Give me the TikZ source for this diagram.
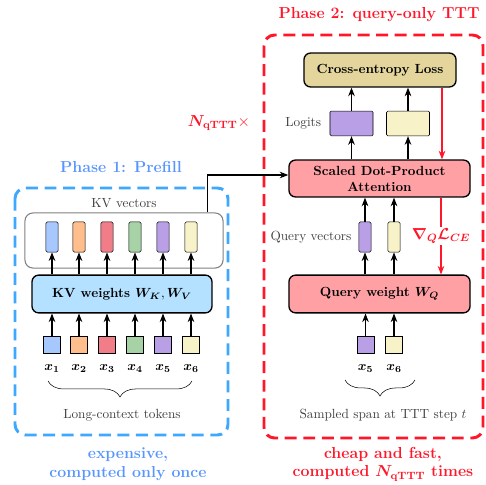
\documentclass[tikz,border=0pt]{standalone}
\usepackage{amsmath}
\usepackage{bm}
\usepackage{tikz}
\usetikzlibrary{arrows.meta,decorations.pathreplacing,calc}
\usepackage{color}

\definecolor{phaseblue}{RGB}{62,168,255}
\definecolor{phasebluetxt}{RGB}{88,150,255}
\definecolor{phasered}{RGB}{255,22,40}
\definecolor{tokblue}{RGB}{166,200,255}
\definecolor{tokorange}{RGB}{255,190,140}
\definecolor{tokred}{RGB}{240,125,135}
\definecolor{tokgreen}{RGB}{166,210,166}
\definecolor{tokpurple}{RGB}{185,160,230}
\definecolor{tokcream}{RGB}{247,242,200}
\definecolor{kvfill}{RGB}{180,225,255}
\definecolor{cefill}{RGB}{227,213,155}
\definecolor{attnfill}{RGB}{255,160,165}

\begin{document}
\begin{tikzpicture}
[x=0.0265cm,y=-0.0265cm,>={Stealth[length=6.5pt,width=5pt]},
 vec/.style={draw,rounded corners=1pt,minimum width=0.32cm,minimum height=0.8cm,inner sep=0pt},
 tok/.style={draw,minimum size=0.45cm,inner sep=0pt},
 logit/.style={draw,rounded corners=1pt,minimum width=1.14cm,minimum height=0.66cm,inner sep=0pt},
 block/.style={draw,line width=1pt,rounded corners=5pt,font=\bfseries,align=center,inner sep=0pt},
 note/.style={text=black!75},
 phase/.style={font=\large\bfseries,align=center},
 flow/.style={->,thick},
 grad/.style={->,thick,phasered},
 brc/.style={decorate,decoration={brace,mirror,amplitude=12pt}},
]
\useasboundingbox (0,0) rectangle (485,485);

%Phase frames
\draw[phaseblue,line width=2.2pt,dash pattern=on 9pt off 5pt,rounded corners=8pt] (15,188) rectangle (228,435);
\draw[phasered,line width=2.2pt,dash pattern=on 9pt off 5pt,rounded corners=8pt] (264,35) rectangle (483,438);
\node[phase,text=phasebluetxt] (title1) at (121,167) {Phase 1: Prefill};
\node[phase,text=phasered] (title2) at (379,15) {Phase 2: query-only TTT};

%Phase 1: prefill of the long context
\node[draw,black!50,thick,rounded corners=6pt,minimum width=5.25cm,minimum height=1.46cm] (kvbox) at (124,240.5) {};
\node[note,above] (kvlab) at (kvbox.north) {KV vectors};
\node[block,fill=kvfill,minimum width=4.77cm,minimum height=1.0cm] (kvw) at (122,294) {KV weights $\bm{W_K},\bm{W_V}$};

\foreach \i/\xx/\col in {1/52/tokblue,2/79/tokorange,3/107/tokred,4/135/tokgreen,5/163/tokpurple,6/191/tokcream}{
  \node[tok,fill=\col] (t\i) at (\xx,345) {};
  \node[inner sep=1pt] (tl\i) at (\xx,369) {$\bm{x_{\i}}$};
  \node[vec,fill=\col] (kv\i) at (\xx,237) {};
  \draw[flow] (t\i.north) -- (t\i.north |- kvw.south);
  \draw[flow] (kv\i.south |- kvw.north) -- (kv\i.south);
}
\coordinate (brl1) at (48,381);
\coordinate (brr1) at (192,381);
\draw[brc] (brl1) -- (brr1);
\node[note] (ctx) at (122,415) {Long-context tokens};
\node[phase,text=phasebluetxt] (cost1) at (128,464) {expensive,\\ computed only once};

%Phase 2: query-only test-time training
\node[block,fill=cefill,minimum width=4.03cm,minimum height=0.9cm] (ce) at (380,70) {Cross-entropy Loss};
\node[block,fill=attnfill,minimum width=4.8cm,minimum height=0.98cm] (sdpa) at (379.5,178.5) {Scaled Dot-Product\\Attention};
\node[block,fill=attnfill,minimum width=4.8cm,minimum height=1.0cm] (qw) at (379.5,294) {Query weight $\bm{W_Q}$};

\node[logit,fill=tokpurple] (lg5) at (351.5,123.5) {};
\node[logit,fill=tokcream] (lg6) at (408,123.5) {};
\node[note,left=3pt] (lglab) at (lg5.west) {Logits};
\node[vec,fill=tokpurple] (q5) at (365,237) {};
\node[vec,fill=tokcream] (q6) at (394,237) {};
\node[note,left=2pt] (qlab) at (q5.west) {Query vectors};
\node[tok,fill=tokpurple] (s5) at (365.5,345) {};
\node[tok,fill=tokcream] (s6) at (394,345) {};
\node[inner sep=1pt] (sl5) at (365.5,369) {$\bm{x_5}$};
\node[inner sep=1pt] (sl6) at (394,369) {$\bm{x_6}$};

\foreach \n in {5,6}{
  \draw[flow] (s\n.north) -- (s\n.north |- qw.south);
  \draw[flow] (q\n.south |- qw.north) -- (q\n.south);
  \draw[flow] (q\n.north) -- (q\n.north |- sdpa.south);
  \draw[flow] (lg\n.south |- sdpa.north) -- (lg\n.south);
  \draw[flow] (lg\n.north) -- (lg\n.north |- ce.south);
}

%KV cache handed over to attention
\coordinate (kvout) at ($(kvbox.north east)+(-16,0)$);
\draw[flow] (kvout) |- ($(sdpa.west)+(0,-3.5)$);

%Gradient loop
\draw[grad] (ce.south -| 442,0) -- (sdpa.north -| 442,0);
\draw[grad] (sdpa.south -| 441,0) -- node[fill=white,inner sep=1pt,text=phasered,font=\large] (gradlab) {$\bm{\nabla_Q\mathcal{L}_{CE}}$} (qw.north -| 441,0);
\node[text=phasered,font=\large] (ntimes) at (219,123) {$\bm{N}_{\textbf{qTTT}}\times$};

\coordinate (brl2) at (345,380);
\coordinate (brr2) at (415,380);
\draw[brc] (brl2) -- (brr2);
\node[note] (span) at (383,415) {Sampled span at TTT step $t$};
\node[phase,text=phasered] (cost2) at (383,464) {cheap and fast,\\ computed $\bm{N}_{\textbf{qTTT}}$ times};

\end{tikzpicture}
\end{document}
